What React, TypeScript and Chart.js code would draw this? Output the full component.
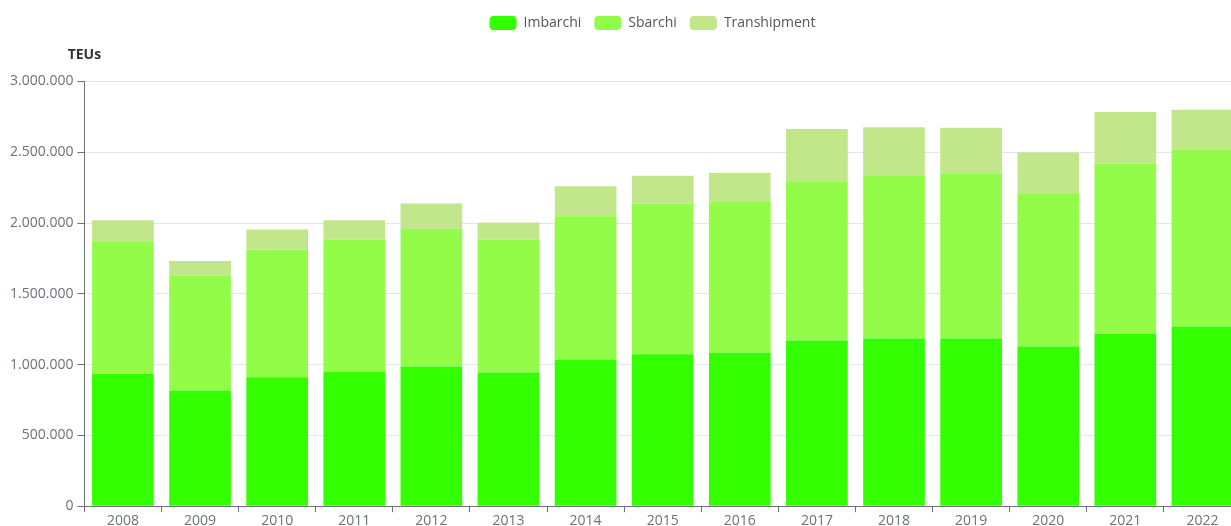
import React, { useEffect, useRef } from 'react';
import { Chart, registerables } from 'chart.js';

Chart.register(...registerables);

const years = ['2008', '2009', '2010', '2011', '2012', '2013', '2014', '2015', '2016', '2017', '2018', '2019', '2020', '2021', '2022'];
const imbarchi = [935000, 817000, 911000, 952000, 987000, 945000, 1034000, 1074000, 1084000, 1171000, 1185000, 1185000, 1128000, 1218000, 1270000];
const sbarchi = [936000, 812000, 902000, 931000, 971000, 938000, 1014000, 1064000, 1070000, 1125000, 1153000, 1167000, 1083000, 1203000, 1250000];
const transhipment = [149000, 103000, 141000, 137000, 180000, 121000, 212000, 196000, 201000, 368000, 338000, 321000, 288000, 363000, 280000];
const seriesNames = ['Imbarchi', 'Sbarchi', 'Transhipment'];
const seriesColors = ['#33ff00', '#92fc48', '#c2e68a'];
const yMax = 3000000;
const yStep = 500000;
const yTitle = 'TEUs';

const FONT = '"Open Sans", "DejaVu Sans", sans-serif';
const AXIS_COLOR = '#6e7079';

const fmt = (v: number) => String(Math.round(v)).replace(/\B(?=(\d{3})+(?!\d))/g, '.');

export default function App() {
  const ref = useRef<HTMLCanvasElement>(null);

  useEffect(() => {
    if (!ref.current) return;
    const legendLayout = {
      id: 'legendLayout',
      beforeInit(chart: any) {
        const lg = chart.legend;
        if (!lg) return;
        const orig = lg.fit;
        lg.fit = function () {
          orig.call(this);
          this.height = 78.5;
        };
      },
      afterLayout(chart: any) {
        const lg = chart.legend;
        if (!lg) return;
        lg.left += 29;
        lg.right += 29;
      },
    };
    const axisTitle = {
      id: 'axisTitle',
      afterDraw(chart: any) {
        const ctx = chart.ctx;
        const y = chart.scales.y;
        ctx.save();
        ctx.font = `bold 14px ${FONT}`;
        ctx.fillStyle = '#333333';
        ctx.textAlign = 'center';
        ctx.textBaseline = 'middle';
        ctx.fillText(yTitle, y.right, chart.chartArea.top - 26);
        ctx.restore();
      },
    };
    const data = [imbarchi, sbarchi, transhipment];
    const chart = new Chart(ref.current, {
      type: 'bar',
      data: {
        labels: years,
        datasets: seriesNames.map((name, i) => ({
          label: name,
          data: data[i],
          backgroundColor: seriesColors[i],
          borderWidth: 0,
          barPercentage: 1,
          categoryPercentage: 0.8,
        })),
      },
      options: {
        animation: false,
        responsive: true,
        maintainAspectRatio: false,
        layout: { padding: { left: 6, right: 65, top: 3, bottom: 0 } },
        plugins: {
          legend: {
            position: 'top',
            labels: {
              boxWidth: 27,
              boxHeight: 14,
              padding: 13,
              useBorderRadius: true,
              borderRadius: 4,
              color: '#555555',
              font: { family: FONT, size: 14 },
            },
          },
          tooltip: { enabled: false },
        },
        scales: {
          x: {
            stacked: true,
            grid: {
              display: true,
              drawOnChartArea: false,
              drawTicks: true,
              tickLength: 6,
              tickColor: AXIS_COLOR,
              offset: true,
            },
            border: { display: true, color: AXIS_COLOR, width: 1 },
            ticks: {
              color: AXIS_COLOR,
              padding: 0,
              font: { family: FONT, size: 14 },
              maxRotation: 0,
              autoSkip: false,
            },
          },
          y: {
            stacked: true,
            min: 0,
            max: yMax,
            grid: {
              color: '#e0e6f1',
              drawTicks: true,
              tickLength: 7,
              tickColor: AXIS_COLOR,
            },
            border: { display: true, color: AXIS_COLOR, width: 1 },
            ticks: {
              stepSize: yStep,
              color: AXIS_COLOR,
              padding: 4,
              font: { family: FONT, size: 14 },
              callback: (v: any) => fmt(Number(v)),
            },
          },
        },
      },
      plugins: [legendLayout, axisTitle],
    } as any);
    return () => chart.destroy();
  }, []);

  return (
    <div style={{ position: 'fixed', left: 0, top: 0, width: 1231, height: 526, overflow: 'hidden', background: '#fff' }}>
      <div style={{ position: 'absolute', left: 0, top: 0, width: 1306, height: 529 }}>
        <canvas ref={ref} />
      </div>
    </div>
  );
}
